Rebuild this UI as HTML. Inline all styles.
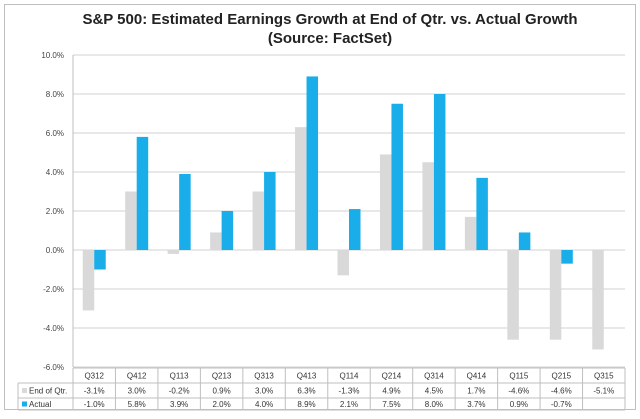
<!DOCTYPE html>
<html><head><meta charset="utf-8"><style>
body{margin:0;background:#fff;width:640px;height:414px;overflow:hidden;font-family:"Liberation Sans",sans-serif}
</style></head><body>
<svg id="c" width="640" height="414" xmlns="http://www.w3.org/2000/svg">
<rect x="4.5" y="4.5" width="631" height="405" fill="#fff" stroke="#bfbfbf"/>
<text x="330" y="24" text-anchor="middle" font-size="15" font-weight="bold" fill="#222">S&amp;P 500: Estimated Earnings Growth at End of Qtr. vs. Actual Growth</text>
<text x="330" y="43" text-anchor="middle" font-size="15" font-weight="bold" fill="#222">(Source: FactSet)</text>
<g id="grid"></g><g id="bars"></g><g id="tbl"></g>
</svg>
<script>
const categories=["Q312","Q412","Q113","Q213","Q313","Q413","Q114","Q214","Q314","Q414","Q115","Q215","Q315"];
const estimate=[-3.1,3.0,-0.2,0.9,3.0,6.3,-1.3,4.9,4.5,1.7,-4.6,-4.6,-5.1];
const actual=[-1.0,5.8,3.9,2.0,4.0,8.9,2.1,7.5,8.0,3.7,0.9,-0.7,null];
const yTicks=[-6,-4,-2,0,2,4,6,8,10];
const NS="http://www.w3.org/2000/svg";
const L=73,R=625,T=55,B=367,yMin=-6,yMax=10;
const cw=(R-L)/categories.length;
const y=v=>T+(yMax-v)/(yMax-yMin)*(B-T);
const x=i=>L+i*cw;
function mk(t,a,p){const e=document.createElementNS(NS,t);for(const k in a)e.setAttribute(k,a[k]);p.appendChild(e);return e;}
const grid=document.getElementById('grid'),bars=document.getElementById('bars'),tbl=document.getElementById('tbl');
yTicks.forEach(v=>{
 const l=mk('line',{x1:L,x2:R,y1:y(v),y2:y(v),stroke:'#d0d0d0','stroke-width':1},grid);
 
 
 const t=mk('text',{x:L-9,y:y(v)+3,'text-anchor':'end','font-size':8,fill:'#444'},grid);
 t.textContent=v.toFixed(1)+'%';
 
 
});
mk('line',{x1:L,x2:L,y1:T,y2:B,stroke:'#bfbfbf'},grid);
const bw=11.5;
categories.forEach((c,i)=>{
 const cx=x(i)+cw/2;
 const e=estimate[i];
 const r1=mk('rect',{x:cx-bw,width:bw,y:Math.min(y(e),y(0)),height:Math.abs(y(e)-y(0)),fill:'#d9d9d9'},bars);
 
 
 if(actual[i]!==null){const a=actual[i];
 const r2=mk('rect',{x:cx,width:bw,y:Math.min(y(a),y(0)),height:Math.abs(y(a)-y(0)),fill:'#19aee9'},bars);
 
 }
});
// table
const rows=[B+1,383,398,410];
const TL=18;
mk('line',{x1:L,x2:R,y1:rows[0],y2:rows[0],stroke:'#bfbfbf'},tbl);
for(let r=1;r<4;r++)mk('line',{x1:TL,x2:R,y1:rows[r],y2:rows[r],stroke:'#bfbfbf'},tbl);
mk('line',{x1:TL,x2:TL,y1:rows[1],y2:rows[3],stroke:'#bfbfbf'},tbl);
for(let i=0;i<=categories.length;i++)mk('line',{x1:x(i),x2:x(i),y1:rows[0],y2:rows[3],stroke:'#bfbfbf'},tbl);
const fmt=v=>v===null?'':v.toFixed(1)+'%';
categories.forEach((c,i)=>{
 const cx=x(i)+cw/2;
 [[c,0],[fmt(estimate[i]),1],[fmt(actual[i]),2]].forEach(([s,r])=>{
  const t=mk('text',{x:cx,y:(rows[r]+rows[r+1])/2+3,'text-anchor':'middle','font-size':8,fill:'#333'},tbl);
  t.textContent=s;
  
  
 });
});
[['End of Qtr.','#d9d9d9',1],['Actual','#19aee9',2]].forEach(([s,col,r])=>{
 const ym=(rows[r]+rows[r+1])/2;
 const k=mk('rect',{x:22,y:ym-2.5,width:5,height:5,fill:col},tbl);
 
 
 const t=mk('text',{x:29,y:ym+3,'font-size':8,fill:'#333'},tbl);
 t.textContent=s;
 
 
});
</script>
</body></html>
